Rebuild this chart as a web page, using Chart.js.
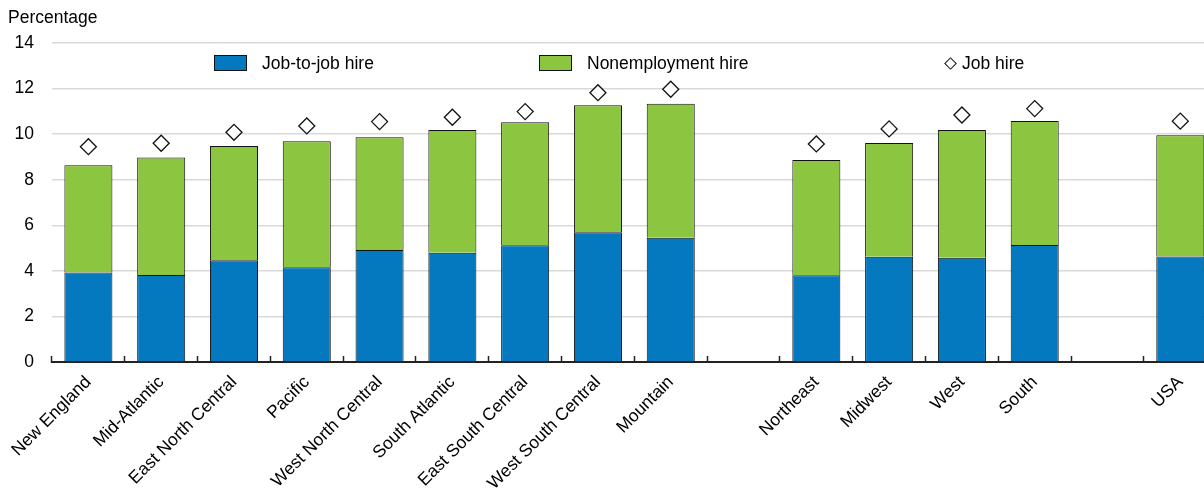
<!DOCTYPE html>
<html>
<head>
<meta charset="utf-8">
<script src="https://cdn.jsdelivr.net/npm/chart.js@4/dist/chart.umd.min.js"></script>
<style>
  html, body { margin: 0; padding: 0; background: #fff; overflow: hidden; }
  body { font-family: "Liberation Sans", Arial, sans-serif; color: #000; }
  #wrap { position: relative; width: 1226px; height: 489px; }
  .unit { position: absolute; left: 8px; top: 7px; font-size: 17.5px; }
  .leg { position: absolute; top: 54px; font-size: 17.5px; line-height: 18px; display: flex; align-items: center; }
  .leg .box { width: 31px; height: 14px; border: 1px solid #111; margin-right: 15px; }
  .leg .dia { width: 7px; height: 7px; border: 1.3px solid #111; transform: rotate(45deg); margin-right: 7px; background: #fff; }
</style>
</head>
<body>
<div id="wrap">
  <canvas id="chart"></canvas>
  <div class="unit">Percentage</div>
  <div class="leg" style="left:214px"><span class="box" style="background:#0579c0"></span>Job-to-job hire</div>
  <div class="leg" style="left:539px"><span class="box" style="background:#8cc641"></span>Nonemployment hire</div>
  <div class="leg" style="left:946px"><span class="dia"></span>Job hire</div>
</div>
<script>
(() => {
    "use strict";

    const regions = [
        "New England", "Mid-Atlantic", "East North Central", "Pacific",
        "West North Central", "South Atlantic", "East South Central",
        "West South Central", "Mountain", "", "Northeast", "Midwest",
        "West", "South", "", "USA"
    ];
    const jobToJob = [3.93, 3.82, 4.47, 4.16, 4.92, 4.79, 5.12, 5.69, 5.45, null, 3.81, 4.62, 4.57, 5.14, null, 4.63];
    const nonemployment = [4.70, 5.16, 5.01, 5.53, 4.94, 5.39, 5.40, 5.58, 5.88, null, 5.06, 4.99, 5.61, 5.44, null, 5.32];
    const jobHire = [9.45, 9.60, 10.08, 10.36, 10.55, 10.74, 10.99, 11.82, 11.97, null, 9.57, 10.23, 10.84, 11.12, null, 10.57];
    const yTicks = [0, 2, 4, 6, 8, 10, 12, 14];

    const tickFont = { family: "'Liberation Sans', Arial, sans-serif", size: 17.5 };

    new Chart(document.getElementById("chart"), {
        data: {
            labels: regions,
            datasets: [
                {
                    type: "bar",
                    label: "Job-to-job hire",
                    data: jobToJob,
                    backgroundColor: "#0579c0",
                    borderColor: "#111",
                    borderWidth: 1,
                    stack: "hires",
                    categoryPercentage: 1,
                    barPercentage: 0.66,
                    order: 2
                },
                {
                    type: "bar",
                    label: "Nonemployment hire",
                    data: nonemployment,
                    backgroundColor: "#8cc641",
                    borderColor: "#111",
                    borderWidth: 1,
                    stack: "hires",
                    categoryPercentage: 1,
                    barPercentage: 0.66,
                    order: 2
                },
                {
                    type: "line",
                    label: "Job hire",
                    data: jobHire,
                    stack: "total",
                    showLine: false,
                    pointStyle: "rectRot",
                    pointRadius: 8,
                    pointBackgroundColor: "#fff",
                    pointBorderColor: "#111",
                    pointBorderWidth: 1.3,
                    order: 1
                }
            ]
        },
        options: {
            responsive: true,
            maintainAspectRatio: false,
            animation: false,
            layout: { padding: { top: 43, left: 0, right: 0, bottom: 0 } },
            plugins: {
                legend: { display: false },
                tooltip: { enabled: false }
            },
            scales: {
                x: {
                    stacked: true,
                    offset: true,
                    border: { display: true, color: "#222", width: 2 },
                    grid: {
                        offset: true,
                        drawOnChartArea: false,
                        drawTicks: true,
                        tickLength: -6,
                        color: "#222",
                        tickWidth: 1.5
                    },
                    ticks: {
                        autoSkip: false,
                        maxRotation: 45,
                        minRotation: 45,
                        padding: 16,
                        color: "#000",
                        font: tickFont
                    },
                    afterFit: (scale) => {
                        scale.height = 127;
                        scale.paddingLeft = 0;
                        scale.paddingRight = 0;
                    }
                },
                y: {
                    stacked: true,
                    min: 0,
                    max: 14,
                    border: { display: false },
                    grid: { color: "#d9d9d9", lineWidth: 1.5, drawTicks: false },
                    afterBuildTicks: (scale) => { scale.ticks = yTicks.map((v) => ({ value: v })); },
                    ticks: { padding: 18, color: "#000", font: tickFont },
                    afterFit: (scale) => { scale.width = 52; }
                }
            }
        }
    });
})();
</script>
</body>
</html>
